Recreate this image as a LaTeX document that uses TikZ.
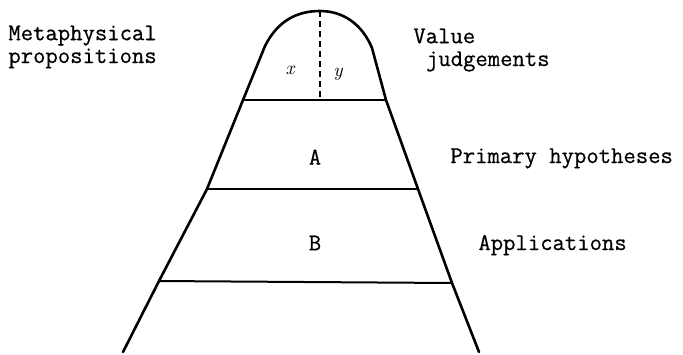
\documentclass[tikz,border=0pt]{standalone}
\usepackage{fontspec}
\newfontfamily\tw[FakeBold=0.6]{Latin Modern Mono}
\begin{document}
\begin{tikzpicture}[x=0.5pt,y=-0.5pt,
  outline/.style={line width=1.3pt,line join=round,line cap=round},
  rung/.style={line width=1pt},
  divider/.style={line width=0.8pt,dash pattern=on 3pt off 2pt},
  label/.style={font=\tw\fontsize{12}{11.4}\selectfont,inner sep=0pt,align=left},
  var/.style={font=\fontsize{9.5}{10}\selectfont\itshape,inner sep=0pt}]
\useasboundingbox (0,0) rectangle (683,354);
% side points
\coordinate (L0) at (123,352);
\coordinate (L1) at (159,281);
\coordinate (L2) at (207,189);
\coordinate (L3) at (243,100);
\coordinate (R0) at (479,352);
\coordinate (R1) at (452,283);
\coordinate (R2) at (418,189);
\coordinate (R3) at (386,100);
\coordinate (top) at (320,11);
\coordinate (mid) at (320,100);
% outline
\draw[outline] (L0) -- (L1) -- (L2) -- (L3) -- (265,46)
  .. controls (278,20) and (298,11) .. (top)
  .. controls (343,11) and (362,24) .. (372,48) -- (R3) -- (R2) -- (R1) -- (R0);
% rungs
\draw[rung] (L3) -- (R3);
\draw[rung] (L2) -- (R2);
\draw[rung] (L1) -- (R1);
% divider
\draw[divider] (top) -- (mid);
% inner labels
\node[var] (x) at (290,70) {x};
\node[var] (y) at (338,74) {y};
\node[label] (A) at (315,157) {A};
\node[label] (B) at (315,243) {B};
% outer labels
\node[label,anchor=base west] (meta) at (8,63) {Metaphysical\\propositions};
\node[label,anchor=base west] (value) at (413,66) {Value\\\hspace*{0.525em}judgements};
\node[label,anchor=base west] (prim) at (450,163) {Primary hypotheses};
\node[label,anchor=base west] (app) at (478,250) {Applications};
\end{tikzpicture}
\end{document}
